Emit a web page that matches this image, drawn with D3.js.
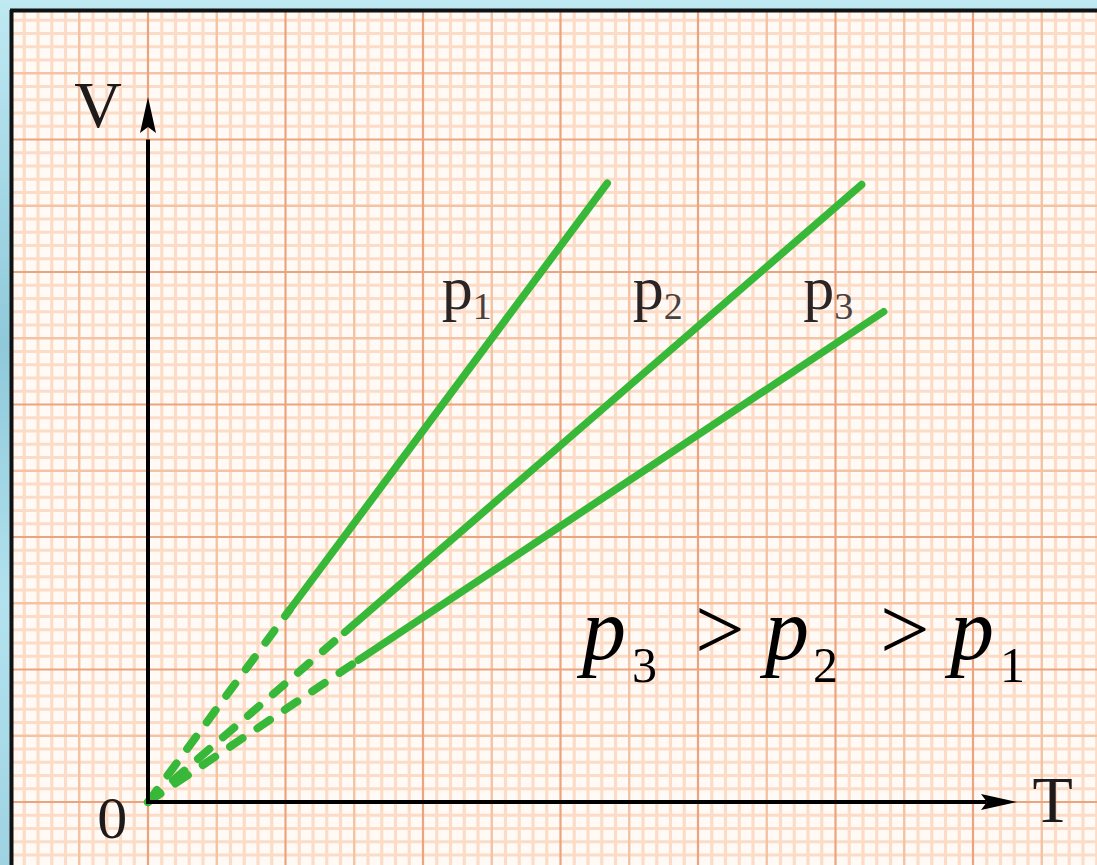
<!DOCTYPE html>
<html>
<head>
<meta charset="utf-8">
<script src="https://cdn.jsdelivr.net/npm/d3@7/dist/d3.min.js"></script>
<style>
	html, body { margin: 0; padding: 0; background: #a9dbe8; }
	svg { display: block; }
</style>
</head>
<body>
<svg id="chart" width="1097" height="865"></svg>
<script>

// isobars in the V-T plane (grid units)
var lineNames = ["1", "2", "3"];
var breakT = [1.03, 1.43, 1.53];	// where the dashed part stops
var breakV = [1.45, 1.28, 1.07];
var endT = [3.34, 5.19, 5.35];
var endV = [4.67, 4.66, 3.70];

// order shown in the bottom caption
var captionOrder = ["3", "2", "1"];

var WIDTH = 1097, HEIGHT = 865;
var PAPER_LEFT = 12, PAPER_TOP = 12;
var LINE_COLOR = "#38b838";
var INK = "#1e1a1a";
var SERIF = "'Liberation Serif', 'Times New Roman', serif";

var svg = d3.select("#chart");

// one grid unit = 137.5px across, 132.5px down
var x = d3.scaleLinear().domain([-1, 7]).range([10.5, 1110.5]);
var y = d3.scaleLinear().domain([-0.5, 6]).range([868.25, 7]);

drawFrame();
drawGrid();
drawLines();
drawAxes();
drawLabels();

function drawFrame() {
	var defs = svg.append("defs");
	var grad = defs.append("linearGradient")
		.attr("id", "frameGrad")
		.attr("x1", 0).attr("y1", 0).attr("x2", 0).attr("y2", 1);
	grad.append("stop").attr("offset", "0%").attr("stop-color", "#bfe9f3");
	grad.append("stop").attr("offset", "40%").attr("stop-color", "#8fc9da");
	grad.append("stop").attr("offset", "70%").attr("stop-color", "#b3e2ee");
	grad.append("stop").attr("offset", "100%").attr("stop-color", "#9fd3e2");

	svg.append("rect")
		.attr("width", WIDTH).attr("height", HEIGHT)
		.attr("fill", "url(#frameGrad)");

	// graph paper
	svg.append("rect")
		.attr("x", PAPER_LEFT).attr("y", PAPER_TOP)
		.attr("width", WIDTH - PAPER_LEFT).attr("height", HEIGHT - PAPER_TOP)
		.attr("fill", "#fffaf6");

	svg.append("clipPath").attr("id", "paperClip")
		.append("rect")
		.attr("x", PAPER_LEFT).attr("y", PAPER_TOP)
		.attr("width", WIDTH - PAPER_LEFT).attr("height", HEIGHT - PAPER_TOP);
}

function drawGrid() {
	var g = svg.append("g").attr("clip-path", "url(#paperClip)");

	var tTicks = d3.range(-10, 71).map(function(i) { return i / 10; });
	var vTicks = d3.range(-5, 61).map(function(i) { return i / 10; });

	// 0 minor, 1 half step, 2 whole step
	function level(v) {
		var n = Math.round(v * 10);
		if(n % 10 === 0) return 2;
		if(n % 5 === 0) return 1;
		return 0;
	}
	var strokes = ["#fcdcc6", "#f3c3a4", "#eba47e"];
	var widths = [3.2, 2.4, 2.2];

	[0, 1, 2].forEach(function(lv) {
		g.selectAll("line.v" + lv)
			.data(tTicks.filter(function(t) { return level(t) === lv; }))
			.enter().append("line")
			.attr("class", "v" + lv)
			.attr("x1", function(t) { return x(t); })
			.attr("x2", function(t) { return x(t); })
			.attr("y1", PAPER_TOP).attr("y2", HEIGHT)
			.attr("stroke", strokes[lv])
			.attr("stroke-width", widths[lv]);

		g.selectAll("line.h" + lv)
			.data(vTicks.filter(function(v) { return level(v) === lv; }))
			.enter().append("line")
			.attr("class", "h" + lv)
			.attr("y1", function(v) { return y(v); })
			.attr("y2", function(v) { return y(v); })
			.attr("x1", PAPER_LEFT).attr("x2", WIDTH)
			.attr("stroke", strokes[lv])
			.attr("stroke-width", widths[lv]);
	});

	// dark edge of the paper
	svg.append("line")
		.attr("x1", PAPER_LEFT - 0.5).attr("x2", PAPER_LEFT - 0.5)
		.attr("y1", PAPER_TOP - 2).attr("y2", HEIGHT)
		.attr("stroke", "#111").attr("stroke-width", 4);
	svg.append("line")
		.attr("x1", PAPER_LEFT - 2).attr("x2", WIDTH)
		.attr("y1", PAPER_TOP - 1.5).attr("y2", PAPER_TOP - 1.5)
		.attr("stroke", "#111").attr("stroke-width", 4);
}

function drawLines() {
	var g = svg.append("g");
	var line = d3.line()
		.x(function(d) { return x(d[0]); })
		.y(function(d) { return y(d[1]); });

	for(var i = 0; i < lineNames.length; i++) {
		// extrapolated part down to absolute zero
		g.append("path")
			.attr("d", line([[0, 0], [breakT[i], breakV[i]]]))
			.attr("fill", "none")
			.attr("stroke", LINE_COLOR)
			.attr("stroke-width", 8)
			.attr("stroke-linecap", "round")
			.attr("stroke-dasharray", "15,18");

		g.append("path")
			.attr("d", line([[breakT[i], breakV[i]], [endT[i], endV[i]]]))
			.attr("fill", "none")
			.attr("stroke", LINE_COLOR)
			.attr("stroke-width", 7.5)
			.attr("stroke-linecap", "round");
	}
}

function drawAxes() {
	var g = svg.append("g");
	var x0 = x(0), y0 = y(0);

	g.append("line")
		.attr("x1", x0).attr("x2", x0)
		.attr("y1", y0 + 2).attr("y2", y(5.0))
		.attr("stroke", "#000").attr("stroke-width", 4);
	g.append("line")
		.attr("x1", x0 - 2).attr("x2", x(6.1))
		.attr("y1", y0).attr("y2", y0)
		.attr("stroke", "#000").attr("stroke-width", 4);

	// arrow heads
	var vTip = y(5.32);
	g.append("path")
		.attr("d", "M" + x0 + "," + vTip +
			"L" + (x0 + 8) + "," + (vTip + 36) +
			"L" + x0 + "," + (vTip + 30) +
			"L" + (x0 - 8) + "," + (vTip + 36) + "Z")
		.attr("fill", "#000");

	var tTip = x(6.32);
	g.append("path")
		.attr("d", "M" + tTip + "," + y0 +
			"L" + (tTip - 36) + "," + (y0 - 8) +
			"L" + (tTip - 30) + "," + y0 +
			"L" + (tTip - 36) + "," + (y0 + 8) + "Z")
		.attr("fill", "#000");

	g.append("text")
		.attr("x", 98).attr("y", 127)
		.attr("text-anchor", "middle")
		.attr("font-family", SERIF).attr("font-size", 66)
		.attr("fill", INK)
		.text("V");

	g.append("text")
		.attr("x", x(6.58)).attr("y", 822)
		.attr("text-anchor", "middle")
		.attr("font-family", SERIF).attr("font-size", 66)
		.attr("fill", INK)
		.text("T");

	g.append("text")
		.attr("x", x(-0.26)).attr("y", 838)
		.attr("text-anchor", "middle")
		.attr("font-family", SERIF).attr("font-size", 60)
		.attr("fill", INK)
		.text("0");
}

function drawLabels() {
	// p labels sit left of each line near its top
	var labelT = [2.15, 3.54, 4.78];
	var labelBase = y(3.72);

	var labels = svg.append("g")
		.attr("font-family", SERIF)
		.attr("fill", "#2a2424");

	labels.selectAll("text")
		.data(lineNames)
		.enter().append("text")
		.attr("x", function(d, i) { return x(labelT[i]) - 2; })
		.attr("y", labelBase)
		.attr("font-size", 62)
		.each(function(d) {
			var t = d3.select(this);
			t.append("tspan").text("p");
			t.append("tspan")
				.attr("font-size", 38)
				.attr("dy", 10)
				.attr("fill", "#4a4040")
				.text(d);
		});

	// caption  p3 > p2 > p1
	var cap = svg.append("text")
		.attr("x", 582).attr("y", 659)
		.attr("font-family", SERIF)
		.attr("font-size", 88)
		.attr("fill", "#000");

	var cx = [582, 632, 695, 765, 813, 880, 950, 1000];
	captionOrder.forEach(function(d, i) {
		cap.append("tspan")
			.attr("x", cx[i * 3])
			.attr("y", 659)
			.attr("font-style", "italic")
			.text("p");
		cap.append("tspan")
			.attr("x", cx[i * 3 + 1])
			.attr("y", 682)
			.attr("font-size", 50)
			.text(d);
		if(i < captionOrder.length - 1) {
			cap.append("tspan")
				.attr("x", cx[i * 3 + 2])
				.attr("y", 659)
				.text(">");
		}
	});
}

</script>
</body>
</html>
